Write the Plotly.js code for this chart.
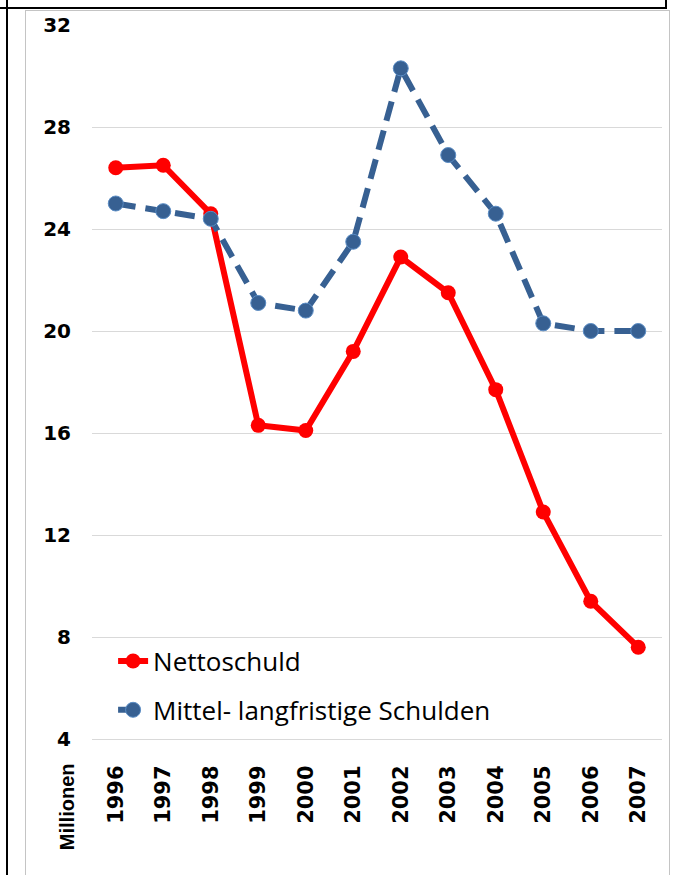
<!DOCTYPE html>
<html>
<head>
<meta charset="utf-8">
<script src="https://cdn.plot.ly/plotly-3.0.1.min.js"></script>
<style>
body { margin: 0; background: #fff; }
#wrap { position: relative; width: 673px; height: 875px; overflow: hidden; }
.ln { position: absolute; }
#chart { position: absolute; left: 0; top: 0; width: 673px; height: 875px; }
</style>
</head>
<body>
<div id="wrap">
  <div class="ln" style="left:0;top:7px;width:667px;height:2px;background:#000"></div>
  <div class="ln" style="left:6px;top:0;width:2px;height:875px;background:#000"></div>
  <div class="ln" style="left:665px;top:0;width:2px;height:9px;background:#000"></div>
  <div class="ln" style="left:25px;top:10px;width:643px;height:870px;border:1px solid #c4c4c4;border-bottom:none"></div>
  <div id="chart"></div>
</div>
<script>
const years = ['1996','1997','1998','1999','2000','2001','2002','2003','2004','2005','2006','2007']
const nettoschuld = [26.4, 26.5, 24.6, 16.3, 16.1, 19.2, 22.9, 21.5, 17.7, 12.9, 9.4, 7.6]
const mittelLangfristig = [25.0, 24.7, 24.4, 21.1, 20.8, 23.5, 30.3, 26.9, 24.6, 20.3, 20.0, 20.0]
const yTicks = [4, 8, 12, 16, 20, 24, 28, 32]

const data = [
  {
    x: years, y: nettoschuld,
    name: 'Nettoschuld',
    type: 'scatter', mode: 'lines+markers',
    line: {color: '#ff0000', width: 6},
    marker: {color: '#ff0000', size: 15},
    legendgroup: 'a'
  },
  {
    x: years, y: mittelLangfristig,
    name: 'Mittel- langfristige Schulden',
    type: 'scatter', mode: 'lines+markers',
    line: {color: '#376092', width: 6, dash: '20px,10px'},
    marker: {color: '#376092', size: 15, line: {color: '#5a8cc4', width: 1}},
    legendgroup: 'b'
  }
]

const layout = {
  width: 673, height: 875,
  paper_bgcolor: 'rgba(0,0,0,0)',
  plot_bgcolor: 'rgba(0,0,0,0)',
  margin: {l: 92, r: 11, t: 25, b: 136},
  showlegend: true,
  legend: {
    x: 0.037, y: 0.142, xanchor: 'left', yanchor: 'top',
    bgcolor: 'rgba(0,0,0,0)',
    font: {family: 'Open Sans', size: 26, color: '#000'},
    traceorder: 'grouped', tracegroupgap: 12,
    itemwidth: 30
  },
  xaxis: {
    type: 'category',
    range: [-0.5, 11.5],
    tickangle: -90,
    ticks: 'outside', ticklen: 17, tickcolor: 'rgba(0,0,0,0)',
    tickfont: {family: 'DejaVu Sans', size: 21, color: '#000', weight: 'bold'},
    showgrid: false, zeroline: false,
    showline: true, linecolor: '#d9d9d9', linewidth: 1
  },
  yaxis: {
    range: [4, 32],
    tickvals: yTicks,
    ticktext: yTicks.map(String),
    ticks: 'outside', ticklen: 16, tickcolor: 'rgba(0,0,0,0)',
    tickfont: {family: 'DejaVu Sans', size: 20, color: '#000', weight: 'bold'},
    showgrid: true, gridcolor: '#d9d9d9', gridwidth: 1,
    showline: false, zeroline: false
  },
  annotations: [{
    text: 'Millionen',
    xref: 'paper', yref: 'paper',
    x: -0.045, y: -0.095,
    xanchor: 'center', yanchor: 'middle',
    textangle: -90, showarrow: false,
    font: {family: 'Liberation Sans', size: 20, color: '#000', weight: 'bold'}
  }]
}

Plotly.newPlot('chart', data, layout, {displayModeBar: false, staticPlot: true})
</script>
</body>
</html>
